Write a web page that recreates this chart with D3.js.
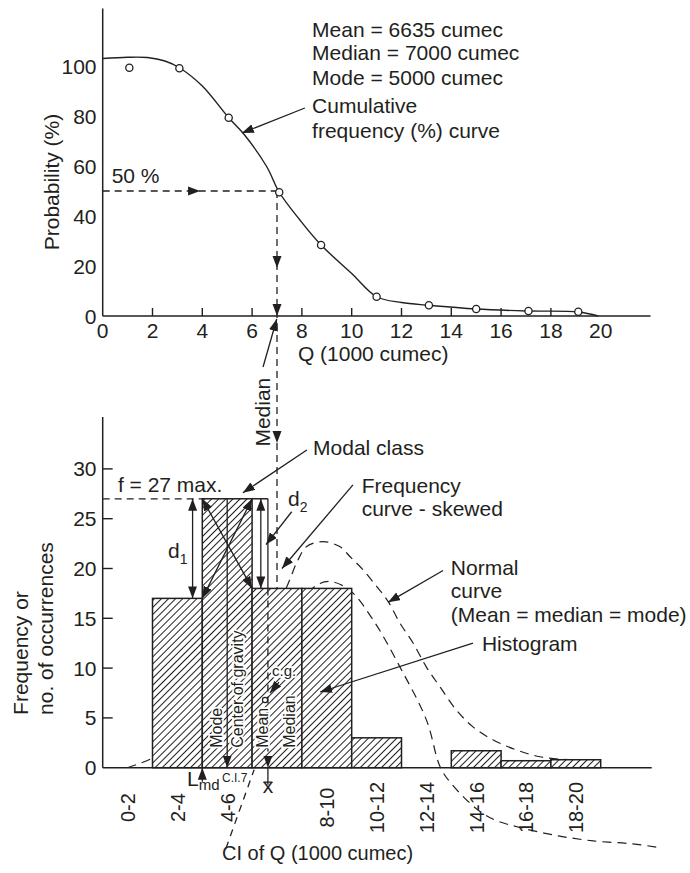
<!DOCTYPE html>
<html><head><meta charset="utf-8">
<script src="https://cdn.jsdelivr.net/npm/d3@7"></script>
<style>
body{margin:0;background:#fff}
text{font-family:"Liberation Sans",Arial,Helvetica,sans-serif;fill:#231f20}
</style>
</head><body>
<svg id="c" width="690" height="873"></svg>
<script>
// ---------------- DATA ----------------
// Top: cumulative frequency (%) curve
const obsQ = [1.07, 3.08, 5.06, 7.09, 8.77, 11.0, 13.1, 15.0, 17.1, 19.1];
const obsP = [99.3, 99.1, 79.3, 49.5, 28.4, 7.7, 4.3, 2.8, 2.0, 1.7];
const cumQ = [0, 1, 1.8, 2.5, 3.08, 4, 5.06, 5.65, 6.59, 7.09, 7.92, 8.77, 10, 11, 12, 13.1, 15, 17.1, 19.1, 19.9];
const cumP = [103, 103.5, 103.4, 102, 99.3, 92, 79.3, 73, 59.7, 49.5, 38.4, 28.4, 17, 7.7, 5.4, 4.3, 2.8, 2.0, 1.6, 0];
const topXTicks = [0, 2, 4, 6, 8, 10, 12, 14, 16, 18, 20];
const topYTicks = [0, 20, 40, 60, 80, 100];

// Bottom: histogram
const classLabels = ["0-2", "2-4", "4-6", "6-8", "8-10", "10-12", "12-14", "14-16", "16-18", "18-20"];
const classLow = [0, 2, 4, 6, 8, 10, 12, 14, 16, 18];
const frequency = [0, 17, 27, 18, 18, 3, 0, 1.7, 0.7, 0.8];
const shownClassLabels = ["0-2", "2-4", "4-6", "8-10", "10-12", "12-14", "14-16", "16-18", "18-20"];
const botYTicks = [0, 5, 10, 15, 20, 25, 30];

// Normal curve (dashed)
const normQ = [5.6, 6.2, 6.8, 7.2, 7.5, 7.83, 8.19, 8.84, 9.52, 9.93, 10.46, 11.0, 11.46, 11.94, 12.47, 13.0, 13.55, 14.2, 14.87, 15.67, 16.6, 17.56, 18.9, 20.0];
const normV = [8.5, 12.3, 15.2, 17.1, 18.8, 20.8, 22.2, 22.7, 22.2, 21.2, 19.85, 18.2, 16.7, 14.5, 12.5, 10.1, 8.1, 5.8, 4.1, 2.8, 1.8, 1.1, 0.77, 0.7];
// Skewed frequency curve (dashed)
const skewQ = [1.0, 2.2, 3.2, 4.2, 5.2, 6.2, 7.3, 8.0, 8.58, 9.13, 9.93, 10.87, 11.94, 13.0, 13.55, 14.0, 15.1, 15.8, 16.75, 18.2, 19.7, 21.3, 22.3];
const skewV = [0, 1.2, 3.1, 5.6, 8.6, 11.8, 14.6, 16.8, 18.3, 18.7, 17.8, 14.8, 10.1, 4.8, 0.1, -1.6, -4.3, -5.3, -6.0, -6.8, -7.35, -7.65, -8.0];

const meanQ = 6.635, medianQ = 7, modeQ = 5, modalF = 27;
const statLines = ["Mean = 6635 cumec", "Median = 7000 cumec", "Mode = 5000 cumec"];

// ---------------- SCALES ----------------
const svg = d3.select("#c");
const ink = "#231f20";
const x = d3.scaleLinear().domain([0, 22]).range([102.7, 650.5]);
const yT = d3.scaleLinear().domain([0, 100]).range([316, 66]);
const yB = d3.scaleLinear().domain([0, 30]).range([767.7, 468.9]);

const defs = svg.append("defs");
defs.append("marker").attr("id", "ah").attr("viewBox", "0 0 12 9")
  .attr("refX", 12).attr("refY", 4.5).attr("markerWidth", 12).attr("markerHeight", 9)
  .attr("markerUnits", "userSpaceOnUse").attr("orient", "auto-start-reverse")
  .append("path").attr("d", "M0,0L12,4.5L0,9Z").attr("fill", ink);
const hs = 5.0;
const pat = defs.append("pattern").attr("id", "hatch").attr("patternUnits", "userSpaceOnUse")
  .attr("width", hs).attr("height", hs).attr("patternTransform", "rotate(45)");
pat.append("rect").attr("width", hs).attr("height", hs).attr("fill", "#fff");
pat.append("line").attr("x1", hs / 2).attr("x2", hs / 2).attr("y1", 0).attr("y2", hs)
  .attr("stroke", ink).attr("stroke-width", 1.05);

function line(x1, y1, x2, y2, o = {}) {
  const l = svg.append("line").attr("x1", x1).attr("y1", y1).attr("x2", x2).attr("y2", y2)
    .attr("stroke", ink).attr("stroke-width", o.w || 1.3);
  if (o.dash) l.attr("stroke-dasharray", o.dash);
  if (o.end) l.attr("marker-end", "url(#ah)");
  if (o.start) l.attr("marker-start", "url(#ah)");
  return l;
}
function tri(px, py, ang) {
  svg.append("path").attr("d", "M0,0L-12,-4.5L-12,4.5Z").attr("fill", ink)
    .attr("transform", `translate(${px},${py}) rotate(${ang})`);
}
function text(px, py, s, o = {}) {
  const t = svg.append("text").attr("x", px).attr("y", py).text(s)
    .attr("font-size", o.size || 21);
  if (o.anchor) t.attr("text-anchor", o.anchor);
  if (o.db) t.attr("dominant-baseline", o.db);
  if (o.rot) t.attr("transform", `rotate(-90,${px},${py})`);
  if (o.halo) t.attr("stroke", "#fff").attr("stroke-width", 3.5).attr("paint-order", "stroke");
  return t;
}

// ---------------- TOP CHART ----------------
line(x(0), yT(0), x(0), yT(123), {w: 1.5});
line(x(0), yT(0), x(22), yT(0), {w: 1.5});
topXTicks.filter(t => t > 0 && t < 20).forEach(t => line(x(t), yT(0), x(t), yT(0) - 8, {w: 1.4}));
topXTicks.forEach(t => text(x(t), yT(-8.8), t, {anchor: "middle"}));
topYTicks.forEach(t => text(96.5, yT(t), t, {anchor: "end", db: "central"}));
text(x(-1.75), yT(53.6), "Probability (%)", {anchor: "middle", rot: true});
text(x(7.84), yT(-18), "Q (1000 cumec)");

svg.append("path").datum(d3.zip(cumQ, cumP))
  .attr("d", d3.line().x(d => x(d[0])).y(d => yT(d[1])).curve(d3.curveCatmullRom.alpha(0.5)))
  .attr("fill", "none").attr("stroke", ink).attr("stroke-width", 1.4);

// 50 % construction
line(x(0), yT(50), x(medianQ), yT(50), {dash: "7,5"});
tri(x(3.91), yT(50), 0);
text(x(0.36), yT(53.2), "50 %");
line(x(medianQ), yT(50), x(medianQ), yB(0), {dash: "7,5"});
tri(x(medianQ), yT(19.2), 90);
tri(x(medianQ), yT(0), 90);
tri(x(medianQ), yB(32.6), 90);
tri(x(medianQ), yB(0), 90);

svg.selectAll("circle.obs").data(d3.zip(obsQ, obsP)).join("circle")
  .attr("cx", d => x(d[0])).attr("cy", d => yT(d[1])).attr("r", 3.6)
  .attr("fill", "#fff").attr("stroke", ink).attr("stroke-width", 1.3);

statLines.forEach((s, i) => text(x(8.41), yT([111.6, 102.4, 92.4][i]), s));
text(x(8.41), yT(81.2), "Cumulative");
text(x(8.41), yT(71.2), "frequency (%) curve");
line(x(8.12), yT(83.2), x(5.59), yT(73.2), {end: true});

// Median label and arrow
text(x(6.72), yB(35.7), "Median", {anchor: "middle", rot: true});
line(x(6.44), yT(-20.4), x(6.99), yT(-1.2), {end: true});

// ---------------- BOTTOM CHART ----------------
const cLine = d3.line().x(d => x(d[0])).y(d => yB(d[1])).curve(d3.curveCatmullRom.alpha(0.5));
svg.append("path").datum(d3.zip(skewQ, skewV)).attr("d", cLine)
  .attr("fill", "none").attr("stroke", ink).attr("stroke-width", 1.2).attr("stroke-dasharray", "9,6");
svg.append("path").datum(d3.zip(normQ, normV)).attr("d", cLine)
  .attr("fill", "none").attr("stroke", ink).attr("stroke-width", 1.2).attr("stroke-dasharray", "9,6");

const bars = classLow.map((lo, i) => ({lo, f: frequency[i], label: classLabels[i]})).filter(d => d.f > 0);
svg.selectAll("rect.bar").data(bars).join("rect")
  .attr("x", d => x(d.lo)).attr("width", d => x(d.lo + 2) - x(d.lo))
  .attr("y", d => yB(d.f)).attr("height", d => yB(0) - yB(d.f))
  .attr("fill", "url(#hatch)").attr("stroke", ink).attr("stroke-width", 1.5);

line(x(0), yB(0), x(0), yB(35.2), {w: 1.5});
line(x(0), yB(0), x(22.05), yB(0), {w: 1.5});
botYTicks.forEach(t => {
  if (t > 0) line(x(0), yB(t), x(0) + 10, yB(t), {w: 1.4});
  text(96.5, yB(t), t, {anchor: "end", db: "central"});
});
shownClassLabels.forEach(s => {
  const i = classLabels.indexOf(s);
  text(x(classLow[i] + 1.3), yB(-4.0), s, {anchor: "middle", rot: true, size: 20});
});
text(x(-3.0), yB(5.3), "Frequency or", {rot: true});
text(x(-2.0), yB(5.3), "no. of occurrences", {rot: true});
text(x(4.79), yB(-9.3), "CI of Q (1000 cumec)", {size: 20});
line(x(4.95), yB(-8.1), x(6.08), yB(-0.2), {dash: "7,6"});

// modal construction
line(x(0), yB(modalF), x(4), yB(modalF), {dash: "7,5"});
line(x(6), yB(modalF), x(meanQ), yB(modalF), {w: 1.5});
line(x(3.61), yB(modalF), x(3.61), yB(frequency[1]), {start: true, end: true});
line(x(6.35), yB(modalF), x(6.35), yB(frequency[3]), {start: true, end: true});
line(x(4), yB(modalF), x(6), yB(frequency[3]), {start: true, end: true});
line(x(6), yB(modalF), x(4), yB(frequency[1]), {start: true, end: true});
line(x(modeQ), yB(modalF), x(modeQ), yB(0), {end: true});
line(x(meanQ), yB(modalF), x(meanQ), yB(frequency[3]), {w: 1.3});
line(x(meanQ), yB(frequency[3]), x(meanQ), yB(0), {dash: "7,5", end: true});

// x-bar and L_md
line(x(meanQ), yB(0), x(meanQ), yB(-1.7), {w: 1.3});
text(x(meanQ), yB(-2.5), "x", {anchor: "middle"});
line(x(meanQ) - 4.5, yB(-1.45), x(meanQ) + 4.5, yB(-1.45), {w: 1.3});
line(x(4), yB(-1.4), x(4), yB(0), {end: true});
const lmd = text(x(3.39), yB(-1.8), "L");
lmd.append("tspan").attr("font-size", 15).attr("dy", 4).text("md");
text(x(4.79), yB(-1.4), "C.I.7", {size: 12});

// in-bar rotated labels
text(x(4.79), yB(2.0), "Mode", {rot: true, size: 16, halo: true});
text(x(5.63), yB(2.0), "Center of gravity", {rot: true, size: 16, halo: true});
text(x(6.63), yB(2.0), "Mean", {rot: true, size: 16, halo: true});
text(x(7.72), yB(2.0), "Median", {rot: true, size: 16, halo: true});
text(x(6.8), yB(9.2), "c.g.", {size: 15, halo: true});
line(x(7.08), yB(8.6), x(6.72), yB(7.5), {end: true});
svg.append("circle").attr("cx", x(6.52)).attr("cy", yB(6.8)).attr("r", 2.6)
  .attr("fill", "#fff").attr("stroke", ink).attr("stroke-width", 1.2);

// annotations
text(x(8.45), yB(31.4), "Modal class");
line(x(8.20), yB(31.9), x(5.63), yB(27.6), {end: true});
text(x(0.61), yB(27.7), "f = 27 max.");
const d1 = text(x(2.62), yB(21.1), "d");
d1.append("tspan").attr("font-size", 14).attr("dy", 6).text("1");
const d2 = text(x(7.44), yB(26.3), "d");
d2.append("tspan").attr("font-size", 14).attr("dy", 6).text("2");
line(x(7.59), yB(25.7), x(6.56), yB(22.4), {end: true});
text(x(10.4), yB(27.6), "Frequency");
text(x(10.4), yB(25.3), "curve - skewed");
line(x(10.05), yB(28.4), x(7.2), yB(20.0), {end: true});
text(x(13.98), yB(19.3), "Normal");
text(x(13.98), yB(17.0), "curve");
text(x(13.98), yB(14.6), "(Mean = median = mode)");
line(x(13.67), yB(19.8), x(11.46), yB(16.6), {end: true});
text(x(15.23), yB(11.7), "Histogram");
line(x(14.87), yB(12.5), x(8.73), yB(7.6), {end: true});
</script>
</body></html>
